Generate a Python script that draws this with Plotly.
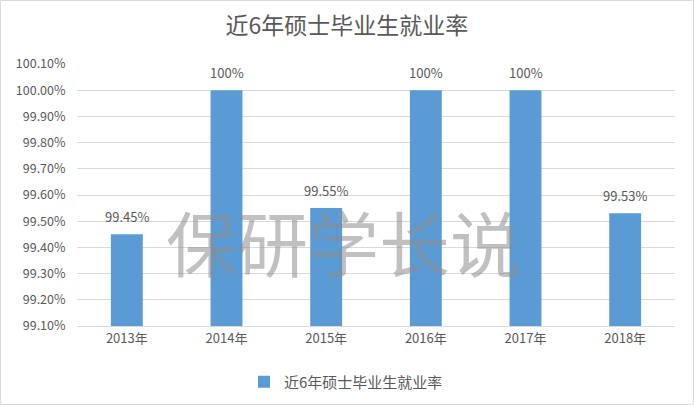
import plotly.graph_objects as go

years = ["2013年", "2014年", "2015年", "2016年", "2017年", "2018年"]
rates = [99.45, 100.00, 99.55, 100.00, 100.00, 99.53]
labels = ["99.45%", "100%", "99.55%", "100%", "100%", "99.53%"]
tick_vals = [99.1, 99.2, 99.3, 99.4, 99.5, 99.6, 99.7, 99.8, 99.9, 100.0, 100.1]
tick_text = ["99.10%", "99.20%", "99.30%", "99.40%", "99.50%", "99.60%",
             "99.70%", "99.80%", "99.90%", "100.00%", "100.10%"]
series_name = "近6年硕士毕业生就业率"

FONT = "Noto Sans CJK SC"
GRAY = "#595959"

fig = go.Figure()
fig.add_trace(go.Bar(
    x=years, y=rates, name=series_name,
    marker=dict(color="#5B9BD5", line=dict(width=0)),
    showlegend=True,
))

annos = [dict(x=yr, y=v, text=t, xref="x", yref="y", showarrow=False,
              yanchor="middle", yshift=18,
              font=dict(family=FONT, size=13, color=GRAY))
         for yr, v, t in zip(years, rates, labels)]
annos.append(dict(text="保研学长说", xref="paper", yref="paper", x=(343 - 77) / 598,
                  y=(326 - 240) / 262, xanchor="center", yanchor="middle", showarrow=False,
                  font=dict(family=FONT, size=71, color="rgba(140,140,140,0.55)")))

fig.update_layout(
    width=694, height=405,
    margin=dict(l=77, r=19, t=64, b=79, autoexpand=False),
    paper_bgcolor="white", plot_bgcolor="white",
    font=dict(family=FONT, color=GRAY, size=12),
    title=dict(text=series_name, x=0.5, xanchor="center", y=1 - 26 / 405, yanchor="middle",
               font=dict(family=FONT, size=23, color=GRAY)),
    bargap=0.68,
    showlegend=True,
    legend=dict(orientation="h", x=0.5 - 30 / 598, xanchor="center", y=-(382 - 326) / 262,
                yanchor="middle", font=dict(family=FONT, size=15, color=GRAY), itemwidth=30),
    xaxis=dict(showline=True, linecolor="#D9D9D9", linewidth=1, ticks="",
               tickfont=dict(family=FONT, size=13, color=GRAY)),
    yaxis=dict(range=[99.1, 100.1], tickmode="array", tickvals=tick_vals, ticktext=tick_text,
               showgrid=True, gridcolor="#D9D9D9", gridwidth=1, zeroline=False,
               tickfont=dict(family=FONT, size=12.5, color=GRAY), ticklen=8, ticks="outside",
               tickcolor="white"),
    shapes=[dict(type="rect", xref="paper", yref="paper", x0=-76.5 / 598, x1=1 + 18.5 / 598,
                 y0=-78.5 / 262, y1=1 + 63.5 / 262, line=dict(color="#D9D9D9", width=1))],
    annotations=annos,
)

fig.write_html("out.html", config={"displayModeBar": False},
               post_script="document.body.style.margin='0';document.body.style.overflow='hidden';")
